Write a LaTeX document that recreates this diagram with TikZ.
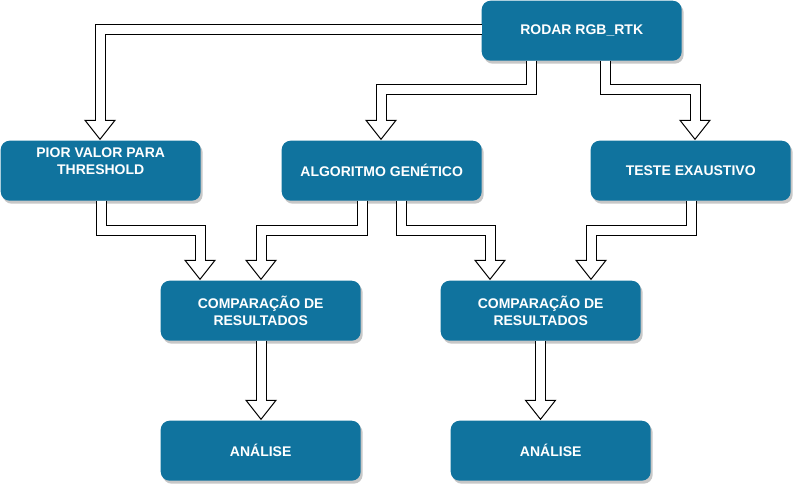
\documentclass[tikz,border=0pt]{standalone}
\usepackage{fontspec}
\setmainfont{Liberation Sans}
\usetikzlibrary{calc,shadows}
\definecolor{boxblue}{HTML}{10739E}
\tikzset{
	box/.style={fill=boxblue, rounded corners=9pt, minimum width=200pt, minimum height=60pt,
		inner sep=0pt, drop shadow={shadow xshift=2pt, shadow yshift=-3pt, fill=black, opacity=0.22}},
	boxtext/.style={text=white, align=center, font=\fontsize{14}{17}\selectfont\bfseries},
	shaft/.style={draw=black, line width=1pt, double=white, double distance=9pt},
	arrowhead/.style={draw=black, fill=white, line width=1pt, line join=miter}
}
\newcommand{\hollowhead}[1]{\draw[arrowhead] ($(#1)+(-15,-19)$) -- (#1) -- ($(#1)+(15,-19)$) -- cycle;}

\begin{document}
\begin{tikzpicture}[x=1pt, y=-1pt]
	\useasboundingbox (0,0) rectangle (793,484);
	\node [box, boxtext] (Rodar) at (581.7, 30.7) {RODAR RGB\_RTK};
	\node [box] (Pior) at (100.7, 170.7) {};
	\node [boxtext] (PiorText) at (100.7, 161.5) {PIOR VALOR PARA\\THRESHOLD};
	\node [box, boxtext] (Genetico) at (381.7, 170.7) {ALGORITMO GENÉTICO};
	\node [box, boxtext] (Exaustivo) at (690.7, 170.7) {TESTE EXAUSTIVO};
	\node [box, boxtext] (CompA) at (260.7, 310.7) {COMPARAÇÃO DE\\RESULTADOS};
	\node [box, boxtext] (CompB) at (540.7, 310.7) {COMPARAÇÃO DE\\RESULTADOS};
	\node [box, boxtext] (AnaliseA) at (260.7, 450.7) {ANÁLISE};
	\node [box, boxtext] (AnaliseB) at (550.7, 450.7) {ANÁLISE};
	\coordinate (RowA) at (0, 90);
	\coordinate (RowB) at (0, 230);
	\coordinate (S1) at (Rodar.west |- 0, 30);
	\coordinate (S2) at (531, 60.7);
	\coordinate (S3) at (605.7, 60.7);
	\coordinate (S4) at (101, 200.7);
	\coordinate (S5) at (362, 200.7);
	\coordinate (S6) at (401, 200.7);
	\coordinate (S7) at (691, 200.7);
	\coordinate (S8) at (261, 340.7);
	\coordinate (S9) at (540.5, 340.7);
	\coordinate (T1) at (100, 139.3);
	\coordinate (T2) at (381, 139.3);
	\coordinate (T3) at (695, 139.3);
	\coordinate (T4) at (200, 279.3);
	\coordinate (T5) at (261, 279.3);
	\coordinate (T6) at (490, 279.3);
	\coordinate (T7) at (591, 279.3);
	\coordinate (T8) at (261, 419.3);
	\coordinate (T9) at (540.5, 419.3);
	\hollowhead{T1}
	\draw [shaft] (S1) -| ($(T1)+(0,-18.5)$);
	\hollowhead{T2}
	\draw [shaft] (S2) -- (S2 |- RowA) -| ($(T2)+(0,-18.5)$);
	\hollowhead{T3}
	\draw [shaft] (S3) -- (S3 |- RowA) -| ($(T3)+(0,-18.5)$);
	\hollowhead{T4}
	\draw [shaft] (S4) -- (S4 |- RowB) -| ($(T4)+(0,-18.5)$);
	\hollowhead{T5}
	\draw [shaft] (S5) -- (S5 |- RowB) -| ($(T5)+(0,-18.5)$);
	\hollowhead{T6}
	\draw [shaft] (S6) -- (S6 |- RowB) -| ($(T6)+(0,-18.5)$);
	\hollowhead{T7}
	\draw [shaft] (S7) -- (S7 |- RowB) -| ($(T7)+(0,-18.5)$);
	\hollowhead{T8}
	\draw [shaft] (S8) -- ($(T8)+(0,-18.5)$);
	\hollowhead{T9}
	\draw [shaft] (S9) -- ($(T9)+(0,-18.5)$);
\end{tikzpicture}
\end{document}
